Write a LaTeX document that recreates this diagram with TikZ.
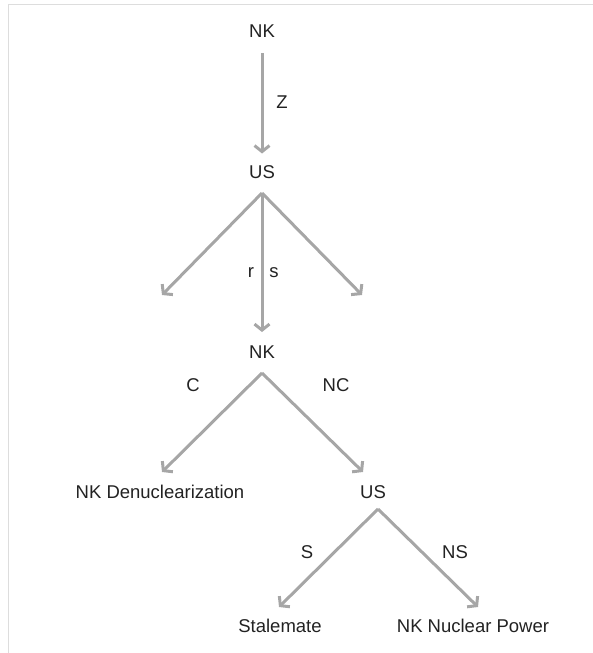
\documentclass[tikz,border=0pt]{standalone}
\usepackage{fontspec}
\setmainfont{Liberation Sans}
\usetikzlibrary{arrows.meta}
\definecolor{arrgray}{HTML}{A6A6A6}
\definecolor{framegray}{HTML}{DDDDDD}
\definecolor{txt}{HTML}{222222}
\begin{document}
\begin{tikzpicture}[x=1bp,y=-1bp,
  lbl/.style={inner sep=0pt,text=txt,font=\fontsize{18.5bp}{22bp}\selectfont,text height=13bp,text depth=0pt},
  arr/.style={draw=arrgray,line width=3bp,-{Straight Barb[length=6bp,width=15bp]}}]
\useasboundingbox (0,0) rectangle (593,653);
\draw[framegray,line width=1bp] (593,4.5) -- (8.5,4.5) -- (8.5,653);
% nodes
\node[lbl] (nk1) at (262,31) {NK};
\node[lbl] (us1) at (262,172) {US};
\node[lbl] (nk2) at (262,352) {NK};
\node[lbl] (den) at (160,492) {NK Denuclearization};
\node[lbl] (us2) at (373,492) {US};
\node[lbl] (stal) at (280,626) {Stalemate};
\node[lbl] (nkp) at (473,626) {NK Nuclear Power};
% fork points
\coordinate (nk1f) at (262,53);
\coordinate (us1f) at (262,193);
\coordinate (nk2f) at (262,373);
\coordinate (us2f) at (378,509);
% free ends
\coordinate (ul) at (162,295);
\coordinate (ur) at (362,295);
\coordinate (dl) at (162,472);
\coordinate (dr) at (363,472);
\coordinate (sl) at (279,607);
\coordinate (sr) at (478,607);
% connectors
\draw[arr,shorten >=-0.5bp] (nk1f) -- (us1.north |- 0,153);
\draw[arr] (us1f) -- (ul);
\draw[arr] (us1f) -- (ur);
\draw[arr] (us1f) -- (nk2.north |- 0,332);
\draw[arr] (nk2f) -- (dl);
\draw[arr] (nk2f) -- (dr);
\draw[arr] (us2f) -- (sl);
\draw[arr] (us2f) -- (sr);
% labels
\node[lbl] (lz) at (282,102) {Z};
\node[lbl] (lr) at (251,271) {r};
\node[lbl] (ls) at (274,271) {s};
\node[lbl] (lc) at (193,385) {C};
\node[lbl] (lnc) at (336,385) {NC};
\node[lbl] (lS) at (307,552) {S};
\node[lbl] (lns) at (455,552) {NS};
\end{tikzpicture}
\end{document}
